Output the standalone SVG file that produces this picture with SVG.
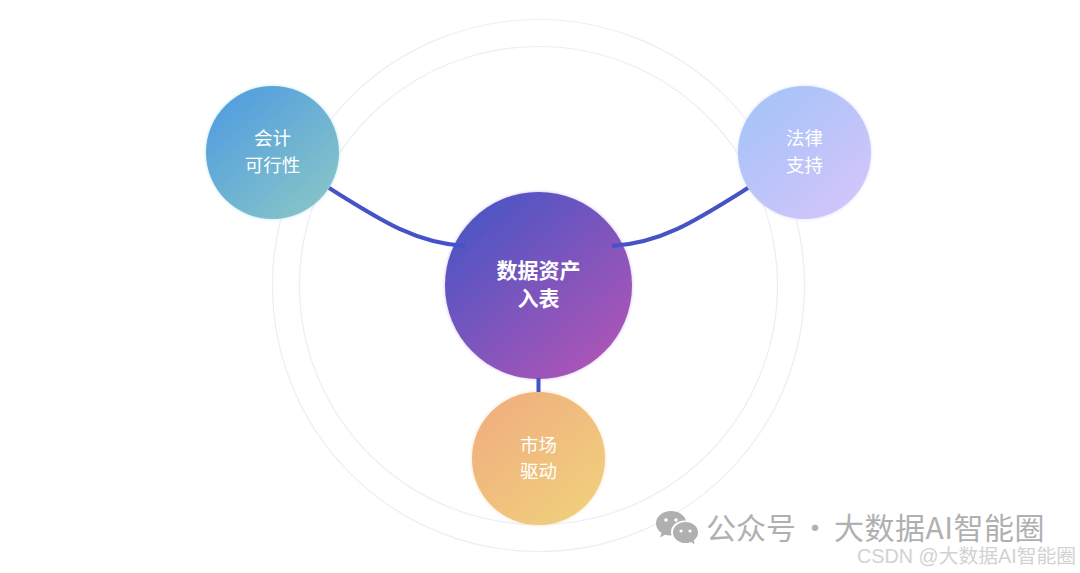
<svg xmlns="http://www.w3.org/2000/svg" width="1080" height="573" viewBox="0 0 1080 573">
<style>
.ring{fill:none;stroke:#ecedfa;stroke-width:1.2}
.conn{fill:none;stroke:#4453c6;stroke-width:4}
.lbl{font-family:"Noto Sans CJK SC","Noto Sans",sans-serif;font-size:18.500px;fill:#fff;text-anchor:middle}
.main{font-size:21px;font-weight:700}
.wm{font-family:"Noto Sans CJK SC","Liberation Sans",sans-serif;fill:#b0b0b0}
</style>
<defs>
<linearGradient id="gc" x1="0.15" y1="0.1" x2="0.85" y2="0.9"><stop offset="0" stop-color="#4d55c4"/><stop offset="1" stop-color="#ab55b6"/></linearGradient>
<linearGradient id="ga" x1="0.15" y1="0.1" x2="0.85" y2="0.9"><stop offset="0" stop-color="#4c9ade"/><stop offset="1" stop-color="#81c1c6"/></linearGradient>
<linearGradient id="gl" x1="0.15" y1="0.1" x2="0.85" y2="0.9"><stop offset="0" stop-color="#a3c2f8"/><stop offset="1" stop-color="#d0c3f9"/></linearGradient>
<linearGradient id="gm" x1="0.15" y1="0.1" x2="0.85" y2="0.9"><stop offset="0" stop-color="#f0b07f"/><stop offset="1" stop-color="#f0ce7c"/></linearGradient>
<filter id="glow" x="-10%" y="-10%" width="120%" height="120%"><feGaussianBlur stdDeviation="1.400"/></filter>
<filter id="soft" x="-5%" y="-5%" width="110%" height="110%"><feGaussianBlur stdDeviation="0.600"/></filter>
</defs>
<rect width="1080" height="573" fill="#fff"/>
<g id="rings">
<circle class="ring" cx="538.500" cy="285.500" r="266"/>
<circle class="ring" cx="538.500" cy="285.500" r="239"/>
</g>
<g id="node-accounting">
<circle cx="272.500" cy="152.500" r="67" fill="#a8dce8" opacity=".6" filter="url(#glow)"/>
<circle cx="272.500" cy="152.500" r="66.500" fill="url(#ga)" fill-opacity=".94" filter="url(#soft)"/>
<text class="lbl" x="272.500" y="145">会计</text>
<text class="lbl" x="272.500" y="172">可行性</text>
</g>
<g id="node-legal">
<circle cx="804.500" cy="152.500" r="67" fill="#d6dcfb" opacity=".7" filter="url(#glow)"/>
<circle cx="804.500" cy="152.500" r="66.500" fill="url(#gl)" fill-opacity=".94" filter="url(#soft)"/>
<text class="lbl" x="804.500" y="145">法律</text>
<text class="lbl" x="804.500" y="172">支持</text>
</g>
<g id="node-center">
<circle cx="538.500" cy="285.500" r="94" fill="#cdb4e8" opacity=".7" filter="url(#glow)"/>
<circle cx="538.500" cy="285.500" r="93.500" fill="url(#gc)" filter="url(#soft)"/>
<text class="lbl main" x="538.500" y="278">数据资产</text>
<text class="lbl main" x="538.500" y="305.500">入表</text>
</g>
<g id="node-market">
<circle cx="538.500" cy="458.500" r="67" fill="#f8dcae" opacity=".7" filter="url(#glow)"/>
<circle cx="538.500" cy="458.500" r="66.500" fill="url(#gm)" filter="url(#soft)"/>
<text class="lbl" x="538.500" y="452">市场</text>
<text class="lbl" x="538.500" y="478">驱动</text>
</g>
<g id="connectors">
<path class="conn" d="M329 188C380 220 415 243 465 246"/>
<path class="conn" d="M748 188C697 220 662 243 612 246"/>
<path class="conn" d="M538.500 378V392"/>
</g>
<g id="watermark">
<path d="M671 511c-8.500 0-15 5.500-15 12.500 0 4 2 7 5.500 9.500l-1.500 4.500 5-2.700c1.500.4 3.500.7 5 .7h1.500c-.4-1-.5-2.200-.5-3.400 0-6.500 6-11.500 13.500-11.500h1.500c-1.500-5.500-7.500-9.600-15-9.600z" fill="#b0b0b0"/>
<ellipse cx="685.500" cy="532.500" rx="12.500" ry="10.500" fill="#b0b0b0"/>
<path d="M690 541l4.500 3.500-1-6z" fill="#b0b0b0"/>
<circle cx="666" cy="520" r="1.800" fill="#fff"/><circle cx="676" cy="520" r="1.800" fill="#fff"/>
<circle cx="681" cy="531" r="1.600" fill="#fff"/><circle cx="690" cy="531" r="1.600" fill="#fff"/>
<text class="wm" y="539" font-size="30"><tspan x="706">公众号</tspan><tspan x="800">·</tspan><tspan x="834" letter-spacing=".5">大数据AI智能圈</tspan></text>
<text x="857" y="563" font-size="19.800" fill="#d2d2d2" font-family="'Liberation Sans','Noto Sans CJK SC',sans-serif">CSDN @大数据AI智能圈</text>
</g>
</svg>
